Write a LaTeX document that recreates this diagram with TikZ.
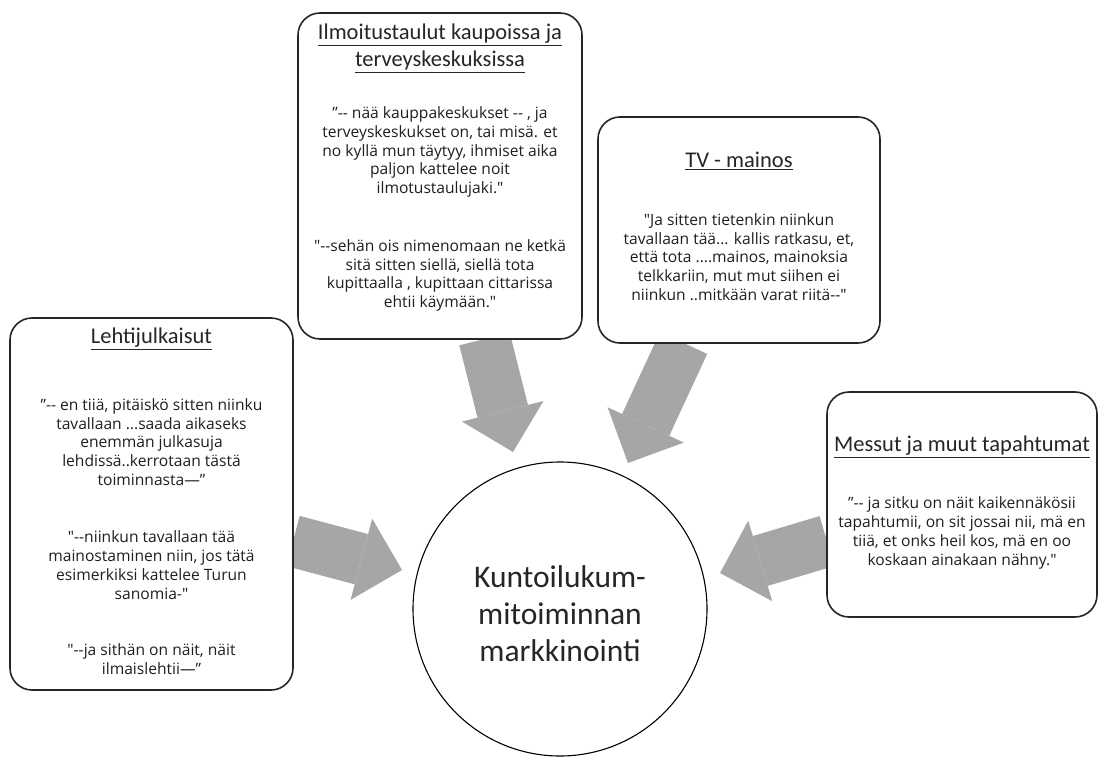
\documentclass[tikz,border=0pt]{standalone}
\usepackage{fontspec}
\usetikzlibrary{arrows.meta}
\newfontfamily\bodyf{Open Sans}
\newfontfamily\titlef{Carlito}
\definecolor{arrowgray}{HTML}{A6A6A6}
\definecolor{edgecol}{HTML}{262626}
\tikzset{
  box/.style={draw=edgecol, line width=1.6pt, rounded corners=22pt, fill=white, inner sep=0pt},
  ttl/.style={font=\titlef\fontsize{22.5}{27}\selectfont, align=center, inner sep=0pt, text=black!85},
  quote/.style={font=\bodyf\fontsize{15.6}{18.8}\selectfont, align=center, inner sep=0pt, text=black!88},
  bigarrow/.style={draw=arrowgray, line width=52pt, -{Triangle[length=42pt, width=84pt, line width=0pt, fill=arrowgray]}},
  hub/.style={draw=black, circle, line width=1.1pt, minimum size=294pt, inner sep=0pt},
}
\begin{document}
\begin{tikzpicture}[x=1pt,y=-1pt]
\useasboundingbox (0,0) rectangle (1099,757);
\fill[white] (0,0) rectangle (1099,757);

% arrow end points
\coordinate (a1s) at (484.5,339);  \coordinate (a1t) at (513,452);
\coordinate (a2s) at (683.6,343);  \coordinate (a2t) at (628,463);
\coordinate (a3s) at (293,541);    \coordinate (a3t) at (402,570);
\coordinate (a4s) at (827,541);    \coordinate (a4t) at (720,573);

\draw[bigarrow] (a1s) -- (a1t);
\draw[bigarrow] (a2s) -- (a2t);
\draw[bigarrow] (a3s) -- (a3t);
\draw[bigarrow] (a4s) -- (a4t);

% boxes
\node[box, minimum width=284pt, minimum height=326pt] (b1) at (440,176) {};
\node[box, minimum width=282pt, minimum height=226pt] (b2) at (739,230) {};
\node[box, minimum width=283pt, minimum height=372pt] (b3) at (151.5,504) {};
\node[box, minimum width=270pt, minimum height=225pt] (b4) at (962,504.5) {};

% centre circle
\node[hub] (c) at (560,609) {};
\node[font=\titlef\fontsize{31.5}{37}\selectfont, align=center, inner sep=0pt, text=black!85] (ctext) at (560,614)
  {Kuntoilukum-\\mitoiminnan\\markkinointi};

% box 1
\node[ttl] (t1) at (440,48.5) {\underline{Ilmoitustaulut kaupoissa ja}\\\underline{terveyskeskuksissa}};
\node[quote] (q11) at (440,152) {”-{}- nää kauppakeskukset -{}- , ja\\terveyskeskukset on, tai misä. et\\no kyllä mun täytyy, ihmiset aika\\paljon kattelee noit\\ilmotustaulujaki."};
\node[quote] (q12) at (440,275.5) {"-{}-sehän ois nimenomaan ne ketkä\\sitä sitten siellä, siellä tota\\kupittaalla , kupittaan cittarissa\\ehtii käymään."};

% box 2
\node[ttl] (t2) at (739,161) {\underline{TV - mainos}};
\node[quote] (q21) at (739,257) {"Ja sitten tietenkin niinkun\\tavallaan tää... kallis ratkasu, et,\\että tota ....mainos, mainoksia\\telkkariin, mut mut siihen ei\\niinkun ..mitkään varat riitä-{}-"};

% box 3
\node[ttl] (t3) at (151.5,339) {\underline{Lehtijulkaisut}};
\node[quote] (q31) at (151.5,442) {”-{}- en tiiä, pitäiskö sitten niinku\\tavallaan ...saada aikaseks\\enemmän julkasuja\\lehdissä..kerrotaan tästä\\toiminnasta—”};
\node[quote] (q32) at (151.5,565) {"-{}-niinkun tavallaan tää\\mainostaminen niin, jos tätä\\esimerkiksi kattelee Turun\\sanomia-"};
\node[quote] (q33) at (151.5,659) {"-{}-ja sithän on näit, näit\\ilmaislehtii—”};

% box 4
\node[ttl] (t4) at (962,447) {\underline{Messut ja muut tapahtumat}};
\node[quote] (q41) at (962,533) {”-{}- ja sitku on näit kaikennäkösii\\tapahtumii, on sit jossai nii, mä en\\tiiä, et onks heil kos, mä en oo\\koskaan ainakaan nähny."};
\end{tikzpicture}
\end{document}
